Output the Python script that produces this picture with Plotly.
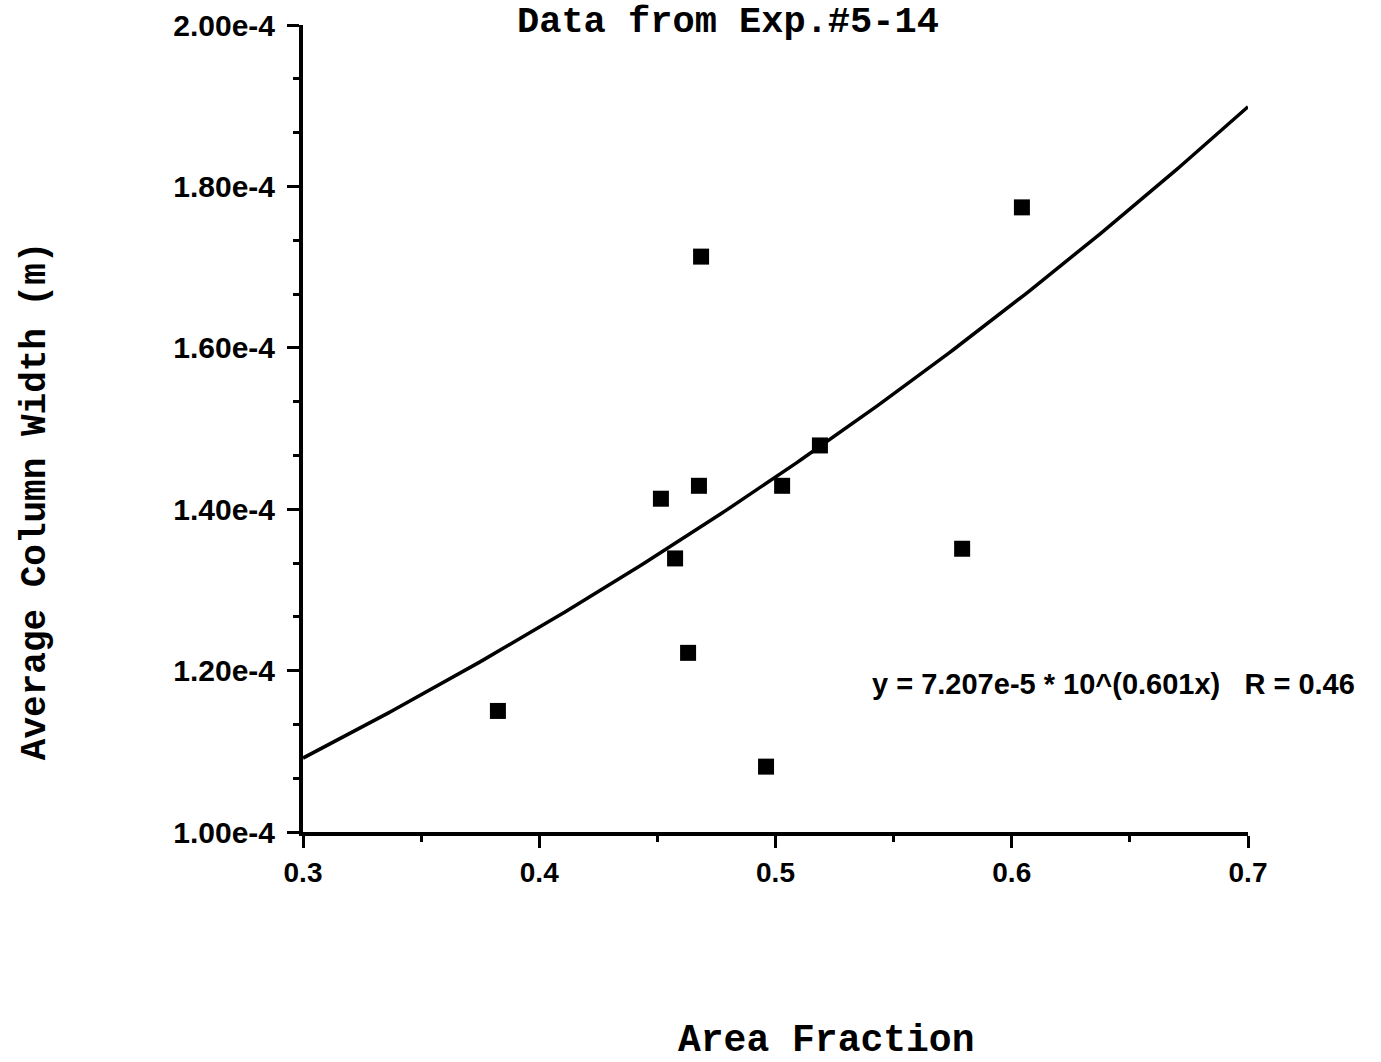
import numpy as np
import plotly.graph_objects as go

# Measured data (Area Fraction vs Average Column Width in m)
area_fraction = [0.3825, 0.4515, 0.4575, 0.4630, 0.4676, 0.4685, 0.4960, 0.5028, 0.5188, 0.5790, 0.6043]
column_width = [1.150e-4, 1.413e-4, 1.339e-4, 1.222e-4, 1.429e-4, 1.713e-4, 1.081e-4, 1.429e-4, 1.479e-4, 1.351e-4, 1.774e-4]

# Fit parameters printed on the chart: y = a * 10^(b x)
fit_a = 7.207e-5
fit_b = 0.601
fit_r = 0.46

x_ticks = [0.3, 0.4, 0.5, 0.6, 0.7]
x_tick_labels = ["0.3", "0.4", "0.5", "0.6", "0.7"]
y_ticks = [1.0e-4, 1.2e-4, 1.4e-4, 1.6e-4, 1.8e-4, 2.0e-4]
y_tick_labels = ["1.00e-4", "1.20e-4", "1.40e-4", "1.60e-4", "1.80e-4", "2.00e-4"]

fit_x = np.linspace(0.3, 0.7, 200)
fit_y = fit_a * 10 ** (fit_b * fit_x)

mono = "Liberation Mono, Courier New, monospace"
sans = "Liberation Sans, Arial, sans-serif"

fig = go.Figure()
fig.add_trace(go.Scatter(x=fit_x, y=fit_y, mode="lines",
                         line=dict(color="black", width=3.5), showlegend=False,
                         cliponaxis=False))
fig.add_trace(go.Scatter(x=area_fraction, y=column_width, mode="markers",
                         marker=dict(symbol="square", size=16, color="black"),
                         showlegend=False))

fig.update_layout(
    width=1381, height=1062,
    margin=dict(l=303, r=133, t=25, b=230, autoexpand=False),
    paper_bgcolor="white", plot_bgcolor="white",
    xaxis=dict(range=[0.3, 0.7], tickvals=x_ticks, ticktext=[f"<b>{t}</b>" for t in x_tick_labels],
               showgrid=False, zeroline=False, showline=True, linecolor="black", linewidth=4,
               ticks="outside", ticklen=12, tickwidth=3, tickcolor="black",
               ticklabelstandoff=0,
               tickfont=dict(family=sans, size=28, color="black"),
               minor=dict(dtick=0.05, tick0=0.3, ticks="outside", ticklen=6, tickwidth=3, tickcolor="black", showgrid=False)),
    yaxis=dict(range=[1.0e-4, 2.0e-4], tickvals=y_ticks, ticktext=[f"<b>{t}</b>" for t in y_tick_labels],
               showgrid=False, zeroline=False, showline=True, linecolor="black", linewidth=4,
               ticks="outside", ticklen=12, tickwidth=3, tickcolor="black",
               ticklabelstandoff=6,
               tickfont=dict(family=sans, size=30, color="black"),
               minor=dict(dtick=0.2e-4 / 3, tick0=1.0e-4, ticks="outside", ticklen=6, tickwidth=3, tickcolor="black", showgrid=False)),
    font=dict(family=sans, color="black"),
)

fig.add_annotation(text="<b>Data from Exp.#5-14</b>", xref="paper", yref="paper",
                   x=0.45, y=1.0, yshift=3, showarrow=False, xanchor="center", yanchor="middle",
                   font=dict(family=mono, size=37, color="black"))
fig.add_annotation(text="<b>Average Column Width (m)</b>", xref="paper", yref="paper",
                   x=0, xshift=-268, y=0.41, showarrow=False, textangle=-90,
                   xanchor="center", yanchor="middle",
                   font=dict(family=mono, size=36, color="black"))
fig.add_annotation(text="<b>Area Fraction</b>", xref="paper", yref="paper",
                   x=0.553, y=0, yshift=-208, showarrow=False, xanchor="center", yanchor="middle",
                   font=dict(family=mono, size=38, color="black"))
fig.add_annotation(text=f"<b>y = {fit_a:.3e}".replace("e-05", "e-5") + f" * 10^({fit_b}x)   R = {fit_r}</b>",
                   xref="paper", yref="y", x=0.6, y=1.183e-4, showarrow=False,
                   xanchor="left", yanchor="middle",
                   font=dict(family=sans, size=29, color="black"))

fig.write_html("out.html")
